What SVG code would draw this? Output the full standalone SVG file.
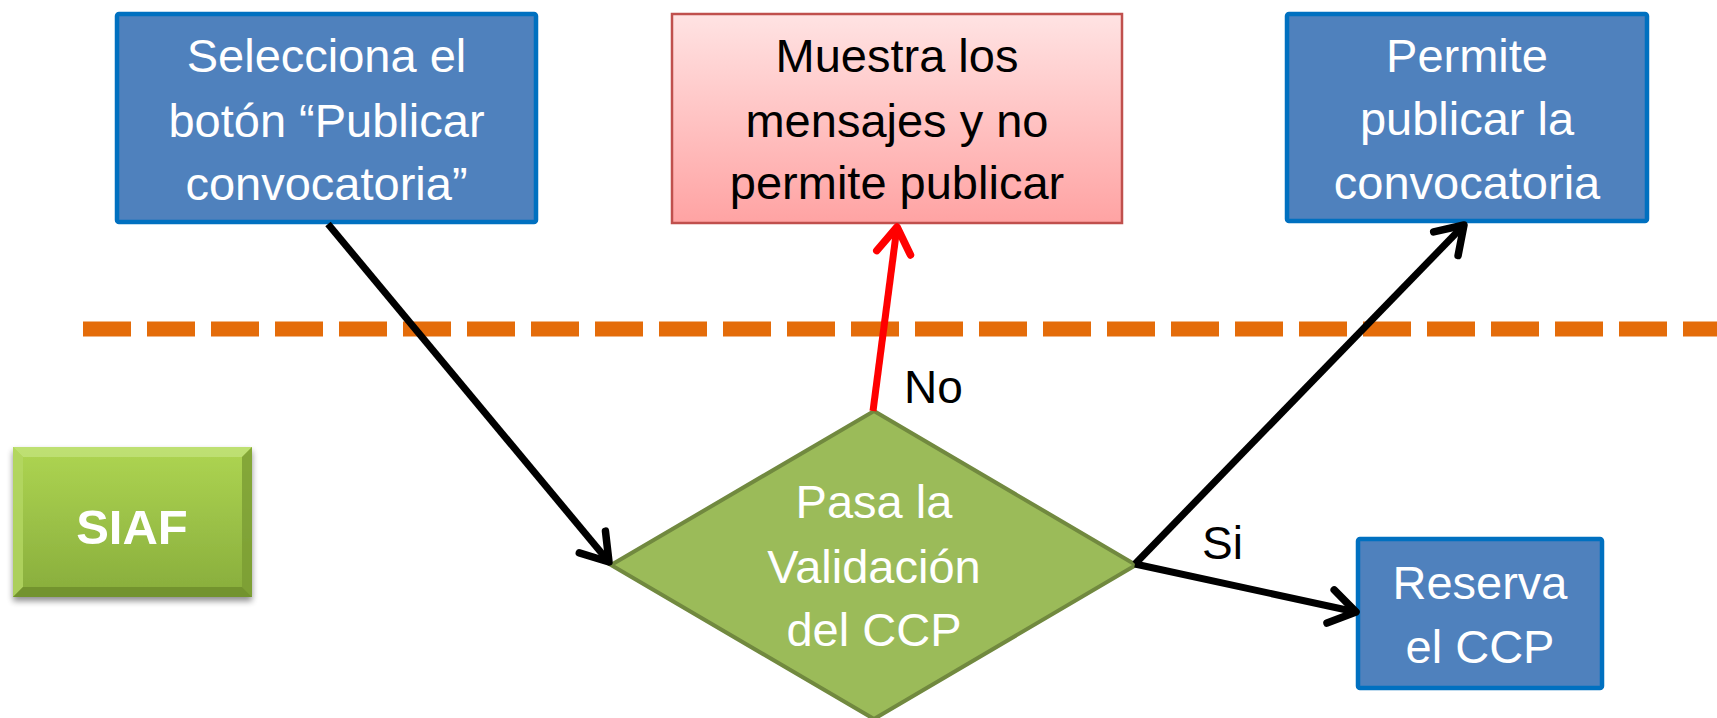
<svg xmlns="http://www.w3.org/2000/svg" width="1717" height="718" viewBox="0 0 1717 718">
<defs>
<style>
.blue{fill:#4F81BD;stroke:#0070C0;stroke-width:4.5}
.t{font-family:"Liberation Sans",Arial,sans-serif;font-size:47px;text-anchor:middle}
.w{fill:#FFFFFF}
.k{fill:#000000}
.lbl{font-family:"Liberation Sans",Arial,sans-serif;font-size:46px;fill:#000}
.conn{fill:none;stroke:#000;stroke-width:7}
.red{stroke:#FF0000}
</style>
<linearGradient id="gRed" x1="0" y1="0" x2="0" y2="1">
<stop offset="0" stop-color="#FFE3E3"/>
<stop offset="1" stop-color="#FFA3A3"/>
</linearGradient>
<linearGradient id="gGreen" x1="0" y1="0" x2="0" y2="1">
<stop offset="0" stop-color="#AED552"/>
<stop offset="1" stop-color="#88AD3C"/>
</linearGradient>
<filter id="sh" x="-20%" y="-20%" width="140%" height="150%">
<feGaussianBlur in="SourceAlpha" stdDeviation="3"/>
<feOffset dx="0" dy="4" result="b"/>
<feComponentTransfer><feFuncA type="linear" slope="0.45"/></feComponentTransfer>
<feMerge><feMergeNode/><feMergeNode in="SourceGraphic"/></feMerge>
</filter>
<marker id="ah" markerUnits="userSpaceOnUse" markerWidth="44" markerHeight="44" viewBox="-38 -22 44 44" refX="0" refY="0" orient="auto">
<path d="M-26,-17 L0,0 L-26,17" fill="none" stroke="#000" stroke-width="7.5" stroke-linecap="round" stroke-linejoin="round"/>
</marker>
<marker id="ahr" markerUnits="userSpaceOnUse" markerWidth="44" markerHeight="44" viewBox="-38 -22 44 44" refX="0" refY="0" orient="auto">
<path d="M-26,-17 L0,0 L-26,17" fill="none" stroke="#FF0000" stroke-width="7.5" stroke-linecap="round" stroke-linejoin="round"/>
</marker>
</defs>
<rect width="1717" height="718" fill="#FFFFFF"/>

<g id="divider">
<line x1="83" y1="329" x2="1717" y2="329" stroke="#E46C0A" stroke-width="15" stroke-dasharray="48 16"/>
</g>

<g id="node-selecciona">
<rect class="blue" x="117" y="14" width="419" height="208" rx="2"/>
<text class="t w" x="326.5" y="72">Selecciona el</text>
<text class="t w" x="326.5" y="137">botón “Publicar</text>
<text class="t w" x="326.5" y="200">convocatoria”</text>
</g>

<g id="node-muestra">
<rect x="672" y="14" width="450" height="209" fill="url(#gRed)" stroke="#C0504D" stroke-width="2.5"/>
<text class="t k" x="897" y="72">Muestra los</text>
<text class="t k" x="897" y="137">mensajes y no</text>
<text class="t k" x="897" y="199">permite publicar</text>
</g>

<g id="node-permite">
<rect class="blue" x="1287" y="14" width="360" height="207" rx="2"/>
<text class="t w" x="1467" y="72">Permite</text>
<text class="t w" x="1467" y="135">publicar la</text>
<text class="t w" x="1467" y="199">convocatoria</text>
</g>

<g id="node-siaf" filter="url(#sh)">
<rect x="13" y="447" width="239" height="150" fill="url(#gGreen)"/>
<polygon points="13,447 252,447 242,457 23,457" fill="#C2E27A" opacity="0.8"/>
<polygon points="13,447 23,457 23,587 13,597" fill="#B4D763" opacity="0.8"/>
<polygon points="252,447 252,597 242,587 242,457" fill="#7A9C33" opacity="0.8"/>
<polygon points="13,597 23,587 242,587 252,597" fill="#6E8E2C" opacity="0.85"/>
<text x="132" y="544" font-family="'Liberation Sans',Arial,sans-serif" font-size="49" font-weight="bold" fill="#FFFFFF" text-anchor="middle">SIAF</text>
</g>

<g id="node-validacion">
<polygon points="874,411 1136,565 874,719 611,565" fill="#9BBB59" stroke="#71893F" stroke-width="4"/>
<text class="t w" x="874" y="518">Pasa la</text>
<text class="t w" x="874" y="583">Validación</text>
<text class="t w" x="874" y="646">del CCP</text>
</g>

<g id="node-reserva">
<rect class="blue" x="1358" y="539" width="244" height="149" rx="2"/>
<text class="t w" x="1480" y="599">Reserva</text>
<text class="t w" x="1480" y="663">el CCP</text>
</g>

<g id="connectors">
<line class="conn" x1="328" y1="224" x2="609" y2="562" marker-end="url(#ah)"/>
<line class="conn red" x1="873" y1="411" x2="897" y2="227" marker-end="url(#ahr)"/>
<line class="conn" x1="1135" y1="564" x2="1464" y2="225" marker-end="url(#ah)"/>
<line class="conn" x1="1135" y1="564" x2="1356" y2="612" marker-end="url(#ah)"/>
<text class="lbl" x="904" y="403">No</text>
<text class="lbl" x="1202" y="559">Si</text>
</g>
</svg>
